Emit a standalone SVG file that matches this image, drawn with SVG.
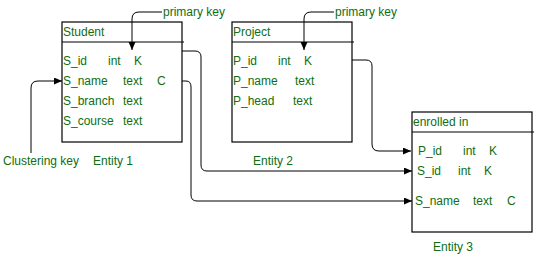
<svg xmlns="http://www.w3.org/2000/svg" width="537" height="261" viewBox="0 0 537 261">
<style>
text{font-family:"Liberation Sans",Arial,sans-serif;font-size:12px;fill:#0f6e0f}
.box{fill:#fff;stroke:#000;stroke-width:1.2}
.ln{stroke:#000;stroke-width:1.2;fill:none}
.c{stroke:#000;stroke-width:1;fill:none;marker-end:url(#ah)}
</style>
<defs>
<marker id="ah" markerUnits="userSpaceOnUse" markerWidth="9" markerHeight="8" refX="8" refY="3.5" orient="auto">
<path d="M0,0 L8,3.5 L0,7 z" fill="#000"/>
</marker>
</defs>
<rect width="537" height="261" fill="#fff"/>
<g id="student">
<rect class="box" x="62" y="22" width="120" height="120"/>
<line class="ln" x1="62" y1="42" x2="184" y2="42"/>
<text x="63" y="36">Student</text>
<text x="63" y="65">S_id</text><text x="108" y="65">int</text><text x="134" y="65">K</text>
<text x="63" y="85">S_name</text><text x="123" y="85">text</text><text x="157" y="85">C</text>
<text x="63" y="105">S_branch</text><text x="123" y="105">text</text>
<text x="63" y="125">S_course</text><text x="123" y="125">text</text>
</g>
<g id="project">
<rect class="box" x="232" y="22" width="120" height="120"/>
<line class="ln" x1="232" y1="42" x2="354" y2="42"/>
<text x="233" y="36">Project</text>
<text x="233" y="65">P_id</text><text x="278" y="65">int</text><text x="304" y="65">K</text>
<text x="233" y="85">P_name</text><text x="295" y="85">text</text>
<text x="233" y="105">P_head</text><text x="293" y="105">text</text>
</g>
<g id="enrolled">
<rect class="box" x="412" y="112" width="120" height="120"/>
<line class="ln" x1="412" y1="132" x2="534" y2="132"/>
<text x="413" y="126">enrolled in</text>
<text x="418" y="155">P_id</text><text x="463" y="155">int</text><text x="489" y="155">K</text>
<text x="417" y="175">S_id</text><text x="458" y="175">int</text><text x="484" y="175">K</text>
<text x="415" y="205">S_name</text><text x="473" y="205">text</text><text x="507" y="205">C</text>
</g>
<g id="labels">
<text x="163" y="16">primary key</text>
<text x="335" y="16">primary key</text>
<text x="3" y="165">Clustering key</text>
<text x="93" y="165">Entity 1</text>
<text x="253" y="165">Entity 2</text>
<text x="433" y="251">Entity 3</text>
</g>
<g id="connectors">
<path class="c" d="M162,12 H139 Q132,12 132,19 V50"/>
<path class="c" d="M334,12 H311 Q304,12 304,19 V50"/>
<path class="c" d="M31,153 V88 Q31,81 38,81 H62"/>
<path class="c" d="M182,51 H195 Q201,51 201,57 V165 Q201,171 207,171 H412"/>
<path class="c" d="M182,81 H186 Q191,81 191,87 V195 Q191,201 197,201 H412"/>
<path class="c" d="M352,60 H366 Q372,60 372,66 V144 Q372,151 379,151 H411"/>
</g>
</svg>
